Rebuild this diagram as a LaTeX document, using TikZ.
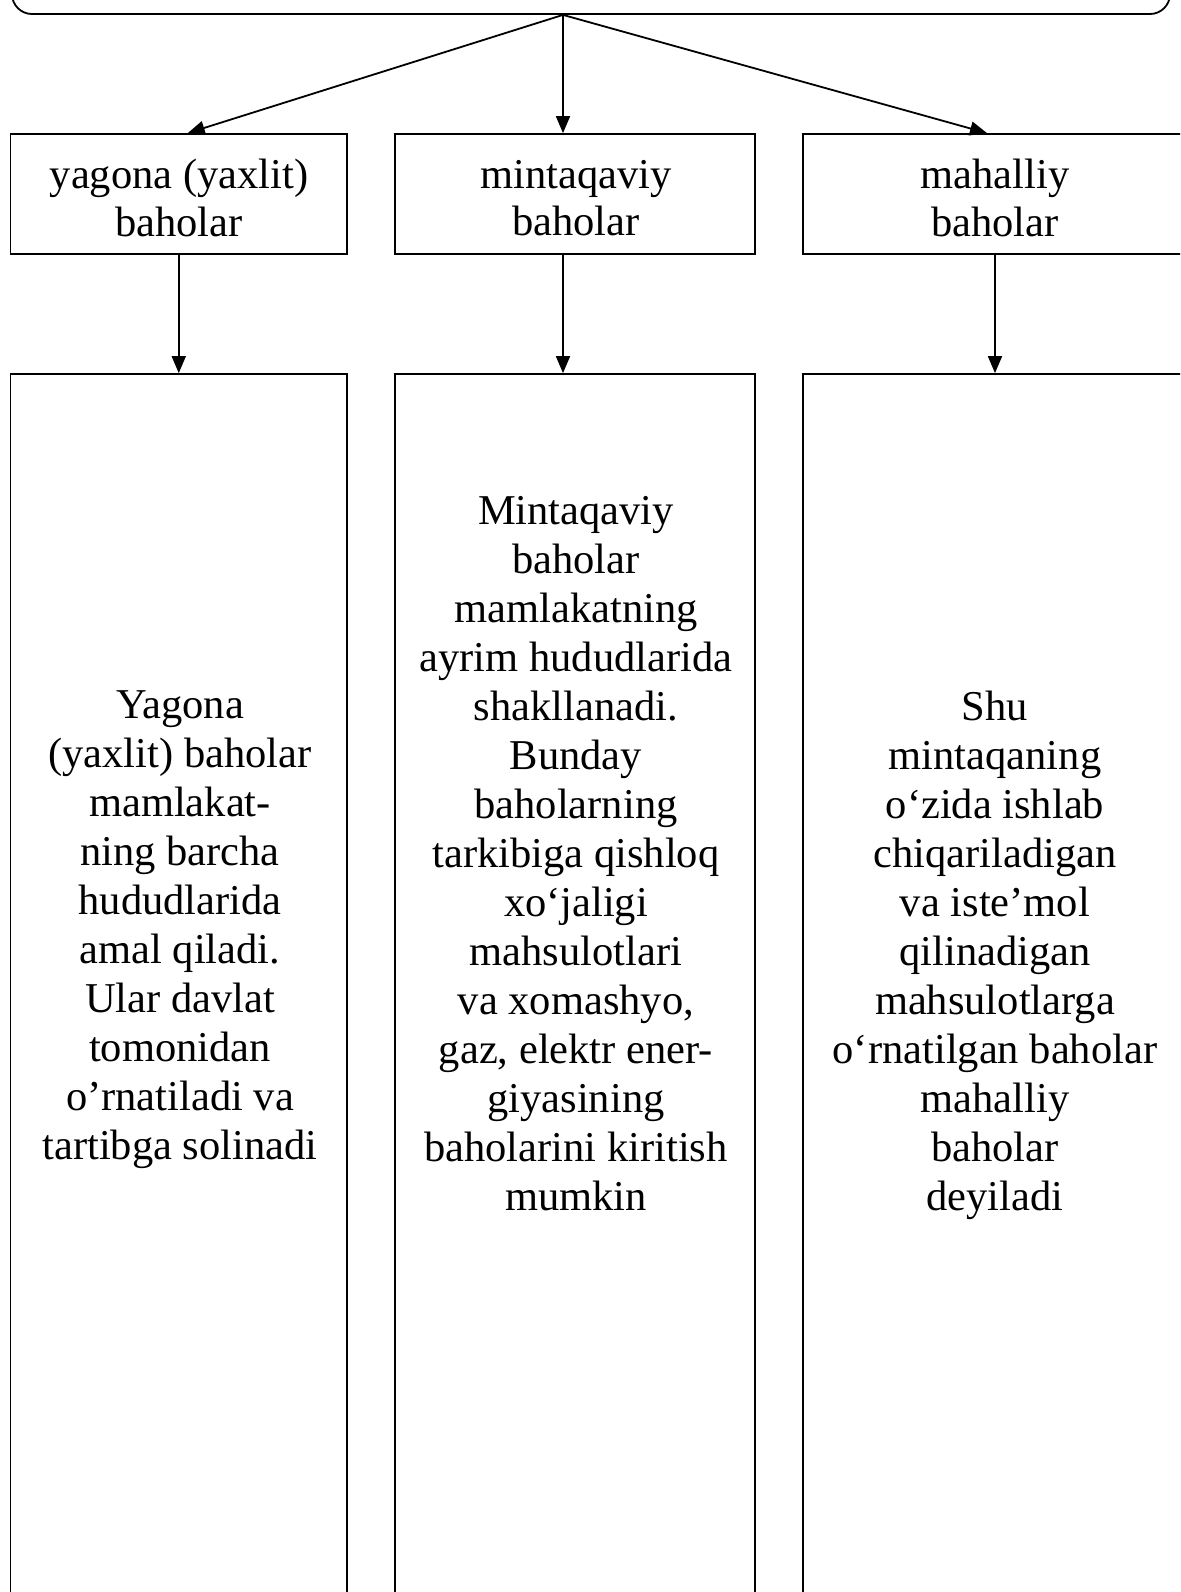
\documentclass[tikz,border=0pt]{standalone}
\usepackage{fontspec}
\setmainfont{Liberation Serif}
\usetikzlibrary{arrows.meta}
\begin{document}
\begin{tikzpicture}[x=0.5pt,y=-0.5pt,
  box/.style={draw,line width=0.9pt,rectangle,inner sep=0pt},
  txt/.style={align=center,font=\fontsize{21.25}{23.6}\selectfont,inner sep=0pt},
  ltxt/.style={align=center,font=\fontsize{21.25}{24.5}\selectfont,inner sep=0pt},
  arr/.style={line width=0.9pt,-{Triangle[length=8.5pt,width=7pt]}}]
\clip (0,0) rectangle (1180,1592);
% top (cut-off) box
\node[box,rounded corners=10pt,minimum width=579pt,minimum height=82pt] (top) at (591,-68) {};
% second row
\node[box,minimum width=168.25pt,minimum height=60pt] (b1) at (178.75,194) {};
\node[box,minimum width=180pt,minimum height=60pt] (b2) at (575,194) {};
\node[box,minimum width=192pt,minimum height=60pt] (b3) at (995,194) {};
\node[txt] (l1) at (179,198) {yagona (yaxlit)\\baholar};
\node[txt] (l2) at (576,198) {mintaqaviy\\baholar};
\node[txt] (l3) at (995,198) {mahalliy\\baholar};
% third row
\node[box,minimum width=168.25pt,minimum height=623pt] (c1) at (178.75,997) {};
\node[box,minimum width=180pt,minimum height=623pt] (c2) at (575,997) {};
\node[box,minimum width=192pt,minimum height=623pt] (c3) at (995,997) {};
\node[ltxt] (t1) at (180,930) {Yagona\\(yaxlit) baholar\\mamlakat-\\ning barcha\\hududlarida\\amal qiladi.\\Ular davlat\\tomonidan\\o’rnatiladi va\\tartibga solinadi};
\node[ltxt] (t2) at (576,854) {Mintaqaviy\\baholar\\mamlakatning\\ayrim hududlarida\\shakllanadi.\\Bunday\\baholarning\\tarkibiga qishloq\\xo‘jaligi\\mahsulotlari\\va xomashyo,\\gaz, elektr ener-\\giyasining\\baholarini kiritish\\mumkin};
\node[ltxt] (t3) at (995,955) {Shu\\mintaqaning\\o‘zida ishlab\\chiqariladigan\\va iste’mol\\qilinadigan\\mahsulotlarga\\o‘rnatilgan baholar\\mahalliy\\baholar\\deyiladi};
% connectors
\coordinate (o) at ([xshift=-14pt]top.south);
\draw[arr] (o) -- ([xshift=4.5pt]b1.north);
\draw[arr] (o) -- ([xshift=-6pt]b2.north);
\draw[arr] (o) -- ([xshift=-4pt]b3.north);
\draw[arr] (b1.south) -- (c1.north);
\draw[arr] ([xshift=-6pt]b2.south) -- ([xshift=-6pt]c2.north);
\draw[arr] (b3.south) -- (c3.north);
\end{tikzpicture}
\end{document}
